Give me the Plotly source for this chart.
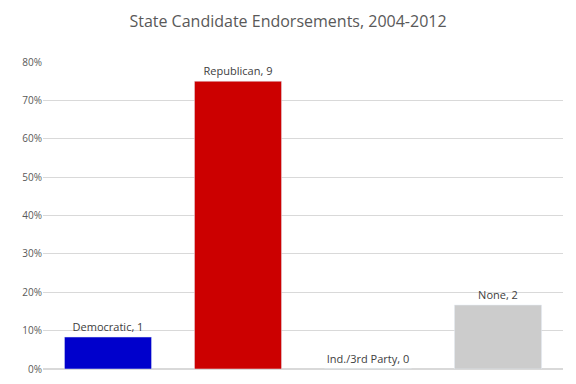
import plotly.graph_objects as go

categories = ["Democratic", "Republican", "Ind./3rd Party", "None"]
counts = [1, 9, 0, 2]
colors = ["#0000CC", "#CC0000", "#FFFFFF", "#CCCCCC"]
total = sum(counts)
shares = [c / total for c in counts]
labels = [f"{cat}, {c}" for cat, c in zip(categories, counts)]

fig = go.Figure(go.Bar(
    x=categories, y=shares, marker_color=colors, width=0.67,
    text=labels, textposition="outside", cliponaxis=False,
    textfont=dict(size=11, color="#404040", family="Open Sans"),
    hoverinfo="skip",
))
fig.update_layout(
    width=576, height=384,
    margin=dict(l=43, r=13, t=62, b=15, autoexpand=False),
    paper_bgcolor="white", plot_bgcolor="white",
    title=dict(text="State Candidate Endorsements, 2004-2012", x=0.5, xanchor="center",
               y=0.943, yanchor="middle",
               font=dict(size=16, color="#595959", family="Open Sans")),
    showlegend=False,
    xaxis=dict(showticklabels=False, showgrid=False, zeroline=False, showline=False,
               automargin=False),
    yaxis=dict(range=[0, 0.8], dtick=0.1, tickformat=".0%", showgrid=True,
               gridcolor="#D9D9D9", gridwidth=1, zeroline=True, zerolinecolor="#D9D9D9",
               tickfont=dict(size=10, color="#595959", family="Open Sans"),
               ticks="", ticklen=0, automargin=False),
)
fig.write_html("out.html", config={"displayModeBar": False},
               post_script="document.body.style.margin='0';")
